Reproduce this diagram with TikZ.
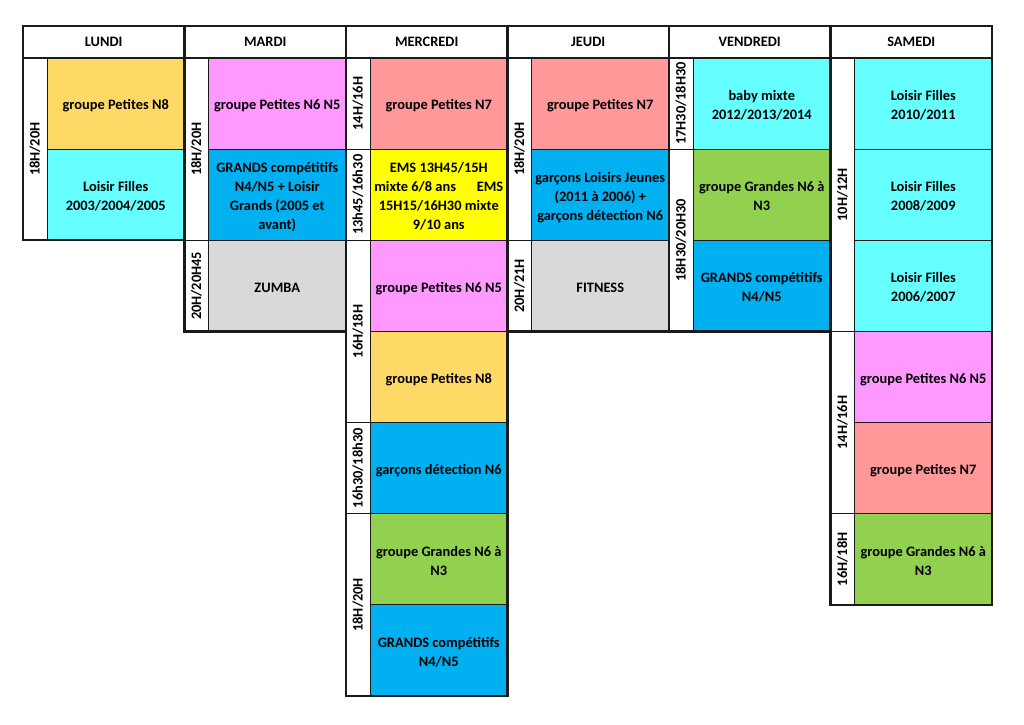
\documentclass[tikz,border=0pt]{standalone}
\usepackage{fontspec}
\setmainfont{Carlito}
\definecolor{corange}{HTML}{FFD966}
\definecolor{ccyan}{HTML}{66FFFF}
\definecolor{cpink}{HTML}{FF99FF}
\definecolor{cblue}{HTML}{00B0F0}
\definecolor{cred}{HTML}{FF9999}
\definecolor{cyellow}{HTML}{FFFF00}
\definecolor{cgrey}{HTML}{D9D9D9}
\definecolor{cgreen}{HTML}{92D050}
\definecolor{cline}{HTML}{1A1A1A}
\newcommand\lo[1]{\raisebox{-2.5pt}[\height][\depth]{\begin{tabular}{@{}c@{}}#1\end{tabular}}}
\begin{document}
\begin{tikzpicture}[x=1pt,y=-1pt,
  txt/.style={font=\fontsize{14.4}{19}\selectfont\bfseries, text=black},
  cell/.style={txt, draw=cline, line width=0.9pt, outer sep=0pt, inner sep=0pt,
    minimum width=137.5pt, minimum height=91.14pt},
  timecell/.style={txt, draw=cline, line width=0.9pt, outer sep=0pt, inner sep=0pt,
    fill=white, rotate=90, minimum height=24pt, align=center},
  span1/.style={minimum width=91.14pt},
  span2/.style={minimum width=182.28pt},
  span3/.style={minimum width=273.42pt},
  head/.style={txt, draw=cline, line width=2.2pt, outer sep=0pt, inner sep=0pt,
    minimum width=161.5pt, minimum height=32pt},
  outline/.style={draw=cline, line width=2.2pt}]
\useasboundingbox[fill=white] (0,0) rectangle (1024,724);

% headers
\node[head] (hLun) at (103.75,42) {LUNDI};
\node[head] (hMar) at (265.25,42) {MARDI};
\node[head] (hMer) at (426.75,42) {MERCREDI};
\node[head] (hJeu) at (588.25,42) {JEUDI};
\node[head] (hVen) at (749.75,42) {VENDREDI};
\node[head] (hSam) at (911.25,42) {SAMEDI};

% LUNDI
\node[cell, fill=corange] (lun1) at (115.75,103.57) {\lo{groupe Petites N8}};
\node[cell, fill=ccyan] (lun2) at (115.75,194.71) {\lo{Loisir Filles\\2003/2004/2005}};
\node[timecell, span2] (lunT) at (35,149.14) {18H/20H};

% MARDI
\node[cell, fill=cpink] (mar1) at (277.25,103.57) {\lo{groupe Petites N6 N5}};
\node[cell, fill=cblue] (mar2) at (277.25,194.71) {\lo{GRANDS compétitifs\\N4/N5 + Loisir\\Grands (2005 et\\avant)}};
\node[cell, fill=cgrey] (mar3) at (277.25,285.86) {\lo{ZUMBA}};
\node[timecell, span2] (marT1) at (196.5,149.14) {18H/20H};
\node[timecell, span1] (marT2) at (196.5,285.86) {20H/20H45};

% MERCREDI
\node[cell, fill=cred] (mer1) at (438.75,103.57) {\lo{groupe Petites N7}};
\node[cell, fill=cyellow] (mer2) at (438.75,194.71) {\lo{EMS 13H45/15H\\\makebox[129pt]{mixte 6/8 ans\hfill EMS}\\15H15/16H30 mixte\\9/10 ans}};
\node[cell, fill=cpink] (mer3) at (438.75,285.86) {\lo{groupe Petites N6 N5}};
\node[cell, fill=corange] (mer4) at (438.75,377.0) {\lo{groupe Petites N8}};
\node[cell, fill=cblue] (mer5) at (438.75,468.14) {\lo{garçons détection N6}};
\node[cell, fill=cgreen] (mer6) at (438.75,559.29) {\lo{groupe Grandes N6 à\\N3}};
\node[cell, fill=cblue] (mer7) at (438.75,650.43) {\lo{GRANDS compétitifs\\N4/N5}};
\node[timecell, span1] (merT1) at (358,103.57) {14H/16H};
\node[timecell, span1] (merT2) at (358,194.71) {13h45/16h30};
\node[timecell, span2] (merT3) at (358,331.43) {16H/18H};
\node[timecell, span1] (merT4) at (358,468.14) {16h30/18h30};
\node[timecell, span2] (merT5) at (358,604.86) {18H/20H};

% JEUDI
\node[cell, fill=cred] (jeu1) at (600.25,103.57) {\lo{groupe Petites N7}};
\node[cell, fill=cblue] (jeu2) at (600.25,194.71) {\lo{garçons Loisirs Jeunes\\(2011 à 2006) +\\garçons détection N6}};
\node[cell, fill=cgrey] (jeu3) at (600.25,285.86) {\lo{FITNESS}};
\node[timecell, span2] (jeuT1) at (519.5,149.14) {18H/20H};
\node[timecell, span1] (jeuT2) at (519.5,285.86) {20H/21H};

% VENDREDI
\node[cell, fill=ccyan] (ven1) at (761.75,103.57) {\lo{baby mixte\\2012/2013/2014}};
\node[cell, fill=cgreen] (ven2) at (761.75,194.71) {\lo{groupe Grandes N6 à\\N3}};
\node[cell, fill=cblue] (ven3) at (761.75,285.86) {\lo{GRANDS compétitifs\\N4/N5}};
\node[timecell, span1] (venT1) at (681,103.57) {17H30/18H30};
\node[timecell, span2] (venT2) at (681,240.29) {18H30/20H30};

% SAMEDI
\node[cell, fill=ccyan] (sam1) at (923.25,103.57) {\lo{Loisir Filles\\2010/2011}};
\node[cell, fill=ccyan] (sam2) at (923.25,194.71) {\lo{Loisir Filles\\2008/2009}};
\node[cell, fill=ccyan] (sam3) at (923.25,285.86) {\lo{Loisir Filles\\2006/2007}};
\node[cell, fill=cpink] (sam4) at (923.25,377.0) {\lo{groupe Petites N6 N5}};
\node[cell, fill=cred] (sam5) at (923.25,468.14) {\lo{groupe Petites N7}};
\node[cell, fill=cgreen] (sam6) at (923.25,559.29) {\lo{groupe Grandes N6 à\\N3}};
\node[timecell, span3] (samT1) at (842.5,194.71) {10H/12H};
\node[timecell, span2] (samT2) at (842.5,422.57) {14H/16H};
\node[timecell, span1] (samT3) at (842.5,559.29) {16H/18H};

% thick outlines of each day
\draw[outline] (hLun.south west) rectangle (lun2.south east);
\draw[outline] (hMar.south west) rectangle (mar3.south east);
\draw[outline] (hMer.south west) rectangle (mer7.south east);
\draw[outline] (hJeu.south west) rectangle (jeu3.south east);
\draw[outline] (hVen.south west) rectangle (ven3.south east);
\draw[outline] (hSam.south west) rectangle (sam6.south east);
\end{tikzpicture}
\end{document}
